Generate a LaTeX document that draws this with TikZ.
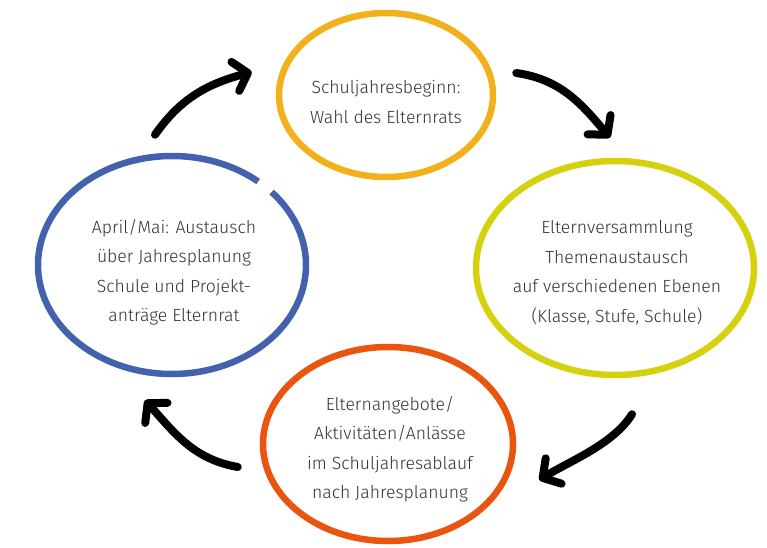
\documentclass[tikz,border=0pt]{standalone}
\usepackage{fontspec}
\setmainfont{Fira Sans Light}
\usetikzlibrary{shapes.geometric}
\usetikzlibrary{arrows.meta}
\tikzset{>={Straight Barb[length=13pt,width=30pt,round]}}
\definecolor{topcol}{HTML}{F2B01A}
\definecolor{rightcol}{HTML}{D5D10F}
\definecolor{bottomcol}{HTML}{E9540F}
\definecolor{leftcol}{HTML}{4361AC}
\definecolor{textgray}{HTML}{333332}

\begin{document}
\begin{tikzpicture}[x=1pt,y=1pt,
  ring/.style={ellipse, line width=6.5pt, inner sep=0pt},
  txt/.style={align=center, text=textgray, font=\fontsize{17.6}{29.5}\selectfont},
  flow/.style={->, line width=8pt, line cap=round}]
  \useasboundingbox (0,0) rectangle (767,547);

  % 椭圆
  \node[ring, draw=topcol, minimum width=214pt, minimum height=164pt] (top) at (386,452) {};
  \node[ring, draw=rightcol, minimum width=278pt, minimum height=214pt] (right) at (615,279) {};
  \node[ring, draw=bottomcol, minimum width=250pt, minimum height=194pt] (bottom) at (388,103) {};
  \node[ring, minimum width=268pt, minimum height=218pt] (left) at (172,282) {};
  \draw[line width=6.5pt, leftcol] ([shift={(50:134 and 109)}]left.center)
    arc[start angle=50, end angle=402, x radius=134, y radius=109];

  % 文字
  \node[txt] (top-txt) at ([yshift=-7pt]top.center) {Schuljahresbeginn:\\Wahl des Elternrats};
  \node[txt] (right-txt) at ([shift={(2pt,-5pt)}]right.center) {Elternversammlung\\Themenaustausch\\auf verschiedenen Ebenen\\(Klasse, Stufe, Schule)};
  \node[txt] (bottom-txt) at ([shift={(2pt,-5pt)}]bottom.center) {Elternangebote/\\Aktivitäten/Anlässe\\im Schuljahresablauf\\nach Jahresplanung};
  \node[txt] (left-txt) at ([shift={(2pt,-7pt)}]left.center) {April/Mai: Austausch\\über Jahresplanung\\Schule und Projekt-\\anträge Elternrat};

  % 箭头
  \draw[flow] ([shift={(-17pt,18pt)}]left.north) to[out=55,in=195] ([shift={(-24pt,23pt)}]top.west);
  \draw[flow] ([shift={(20pt,22pt)}]top.east) to[out=-8,in=130] ([shift={(-5pt,20pt)}]right.north);
  \draw[flow] ([shift={(17pt,-36pt)}]right.south) to[out=238,in=32,looseness=0.8] ([shift={(23pt,-36pt)}]bottom.east);
  \draw[flow] ([shift={(-22pt,-23pt)}]bottom.west) to[out=170,in=-48] ([shift={(-27pt,-23pt)}]left.south);
\end{tikzpicture}
\end{document}
